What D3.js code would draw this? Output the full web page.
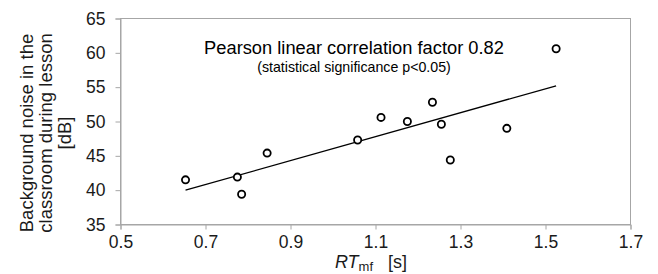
<!DOCTYPE html>
<html><head><meta charset="utf-8">
<script src="https://cdn.jsdelivr.net/npm/d3@7"></script>
<style>body{margin:0;background:#fff}svg{display:block;font-family:"Liberation Sans",Arial,sans-serif}</style>
</head><body>
<script>
const rtValues = [0.653, 0.775, 0.785, 0.845, 1.058, 1.113, 1.175, 1.234, 1.255, 1.276, 1.409, 1.525];
const noiseValues = [41.5, 41.9, 39.4, 45.4, 47.3, 50.6, 50.0, 52.8, 49.6, 44.4, 49.0, 60.6];
const trendX = [0.653, 1.525];
const trendY = [40.0, 55.2];
const xTicks = [0.5, 0.7, 0.9, 1.1, 1.3, 1.5, 1.7];
const yTicks = [35, 40, 45, 50, 55, 60, 65];
const titleLines = ["Pearson linear correlation factor 0.82", "(statistical significance p<0.05)"];
const yTitleLines = ["Background noise in the", "classroom during lesson", "[dB]"];

const W = 658, H = 274;
const m = {left: 120.5, right: 630.5, top: 18.5, bottom: 224.5};
const svg = d3.select("body").append("svg").attr("width", W).attr("height", H);
const x = d3.scaleLinear().domain([0.5, 1.7]).range([m.left, m.right]);
const y = d3.scaleLinear().domain([35, 65]).range([m.bottom, m.top]);
const gray = "#a6a6a6";

// plot border
svg.append("rect").attr("x", m.left).attr("y", m.top)
  .attr("width", m.right - m.left).attr("height", m.bottom - m.top)
  .attr("fill", "none").attr("stroke", gray).attr("stroke-width", 1);

const xa = svg.append("g").attr("transform", `translate(0,${m.bottom})`)
  .call(d3.axisBottom(x).tickValues(xTicks).tickSize(5).tickPadding(6).tickFormat(d3.format(".1f")));
const ya = svg.append("g").attr("transform", `translate(${m.left},0)`)
  .call(d3.axisLeft(y).tickValues(yTicks).tickSize(5).tickPadding(10).tickFormat(d3.format("d")));
[xa, ya].forEach(a => {
  a.select(".domain").attr("stroke", gray);
  a.selectAll(".tick line").attr("stroke", gray);
  a.selectAll(".tick text").attr("fill", "#1a1a1a").style("font-size", "17.5px").style("font-family", '"Liberation Sans",Arial,sans-serif');
});

// trend line
svg.append("line")
  .attr("x1", x(trendX[0])).attr("y1", y(trendY[0]))
  .attr("x2", x(trendX[1])).attr("y2", y(trendY[1]))
  .attr("stroke", "#000").attr("stroke-width", 1.3);

// points
svg.append("g").selectAll("circle").data(rtValues.map((v, i) => [v, noiseValues[i]]))
  .join("circle")
  .attr("cx", d => x(d[0])).attr("cy", d => y(d[1])).attr("r", 3.6)
  .attr("fill", "#fff").attr("stroke", "#000").attr("stroke-width", 1.8);

// annotation
svg.append("text").attr("x", 354).attr("y", 54.3).attr("text-anchor", "middle")
  .style("font-size", "18.3px").attr("fill", "#000").text(titleLines[0]);
svg.append("text").attr("x", 354).attr("y", 72).attr("text-anchor", "middle")
  .style("font-size", "14.2px").attr("fill", "#000").text(titleLines[1]);

// x title
const xt = svg.append("text").attr("x", 371).attr("y", 267.5).attr("text-anchor", "middle")
  .style("font-size", "18px").attr("fill", "#1a1a1a");
xt.append("tspan").style("font-style", "italic").text("RT");
xt.append("tspan").attr("dy", 3).style("font-size", "13px").text("mf");
xt.append("tspan").attr("dy", -3).text("\u00a0\u00a0\u00a0[s]");

// y title
const yt = svg.append("text").attr("transform", "translate(0,133) rotate(-90)")
  .attr("text-anchor", "middle").style("font-size", "18.5px").attr("fill", "#1a1a1a");
yTitleLines.forEach((t, i) => yt.append("tspan").attr("x", 0).attr("y", 32.5 + i * 19).text(t));
</script>
</body></html>
